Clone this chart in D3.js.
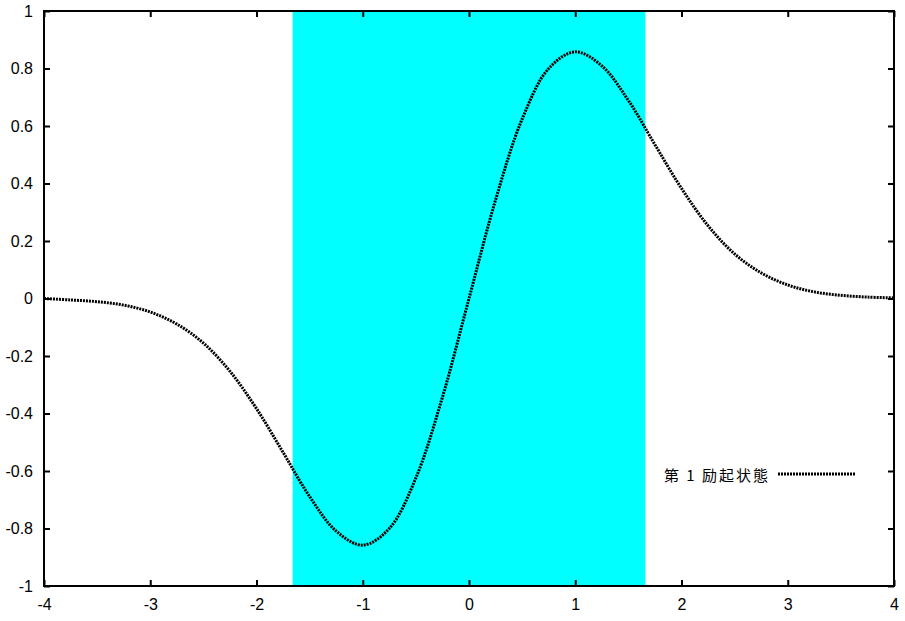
<!DOCTYPE html>
<html>
<head>
<meta charset="utf-8">
<script src="https://cdn.jsdelivr.net/npm/d3@7/dist/d3.min.js"></script>
<style>
html,body{margin:0;padding:0;background:#fff;}
svg{display:block;}
</style>
</head>
<body>
<svg id="chart" width="905" height="621"></svg>
<script>
// Data
const xValues = [-4,-3.75,-3.5,-3.25,-3,-2.75,-2.5,-2.25,-2,-1.75,-1.5,-1.25,-1,-0.75,-0.5,-0.25,0,0.25,0.5,0.75,1,1.25,1.5,1.75,2,2.25,2.5,2.75,3,3.25,3.5,3.75,4];
const psiValues = [0.00,-0.005,-0.011,-0.023,-0.047,-0.089,-0.155,-0.253,-0.383,-0.535,-0.689,-0.809,-0.858,-0.80,-0.624,-0.343,0,0.343,0.624,0.80,0.858,0.809,0.689,0.535,0.383,0.253,0.155,0.089,0.047,0.023,0.011,0.005,0.002];
const bandRange = [-1.66, 1.66];
const xTicks = [-4,-3,-2,-1,0,1,2,3,4];
const yTicks = [-1,-0.8,-0.6,-0.4,-0.2,0,0.2,0.4,0.6,0.8,1];
const legendLabel = "第 1 励起状態";

(function(){
const svg = d3.select("#chart");
const L = 44, R = 894, T = 11, B = 586;
const x = d3.scaleLinear().domain([-4,4]).range([L,R]);
const y = d3.scaleLinear().domain([-1,1]).range([B,T]);

// cyan band
svg.append("rect")
  .attr("x", x(bandRange[0])).attr("y", T)
  .attr("width", x(bandRange[1]) - x(bandRange[0]))
  .attr("height", B - T)
  .attr("fill", "#00ffff");

// curve
const pts = xValues.map((v,i)=>[v, psiValues[i]]);
const line = d3.line().x(d=>x(d[0])).y(d=>y(d[1])).curve(d3.curveCatmullRom);
svg.append("path").datum(pts)
  .attr("d", line)
  .attr("fill","none").attr("stroke","#000")
  .attr("stroke-width",3).attr("stroke-dasharray","2,1");

// axes with inward ticks, mirrored
const fontFam = "'Liberation Sans', Arial, sans-serif";
const tickLen = 6;
const axB = d3.axisBottom(x).tickValues(xTicks).tickSize(-tickLen).tickPadding(13).tickFormat(d=>String(d));
const axT = d3.axisTop(x).tickValues(xTicks).tickSize(-tickLen).tickFormat("");
const axL = d3.axisLeft(y).tickValues(yTicks).tickSize(-tickLen).tickPadding(11).tickFormat(d=>String(+d.toFixed(1)));
const axR = d3.axisRight(y).tickValues(yTicks).tickSize(-tickLen).tickFormat("");

function style(g){
  g.select(".domain").remove();
  g.selectAll(".tick line").attr("stroke","#000").attr("stroke-width",2);
  g.selectAll("text").attr("font-family",fontFam).attr("font-size",16).attr("fill","#000");
}
svg.append("g").attr("transform",`translate(0,${B})`).call(axB).call(style);
svg.append("g").attr("transform",`translate(0,${T})`).call(axT).call(style);
svg.append("g").attr("transform",`translate(${L},0)`).call(axL).call(style);
svg.append("g").attr("transform",`translate(${R},0)`).call(axR).call(style);

// frame
svg.append("rect").attr("x",L).attr("y",T).attr("width",R-L).attr("height",B-T)
  .attr("fill","none").attr("stroke","#000").attr("stroke-width",2);

// legend
svg.append("text").attr("x",768).attr("y",481).attr("text-anchor","end")
  .attr("font-family","'Noto Sans CJK JP', sans-serif").attr("font-size",15)
  .attr("textLength",104).attr("lengthAdjust","spacing")
  .text(legendLabel);
svg.append("line").attr("x1",778).attr("x2",855).attr("y1",474).attr("y2",474)
  .attr("stroke","#000").attr("stroke-width",3).attr("stroke-dasharray","2,1");
})();
</script>
</body>
</html>
